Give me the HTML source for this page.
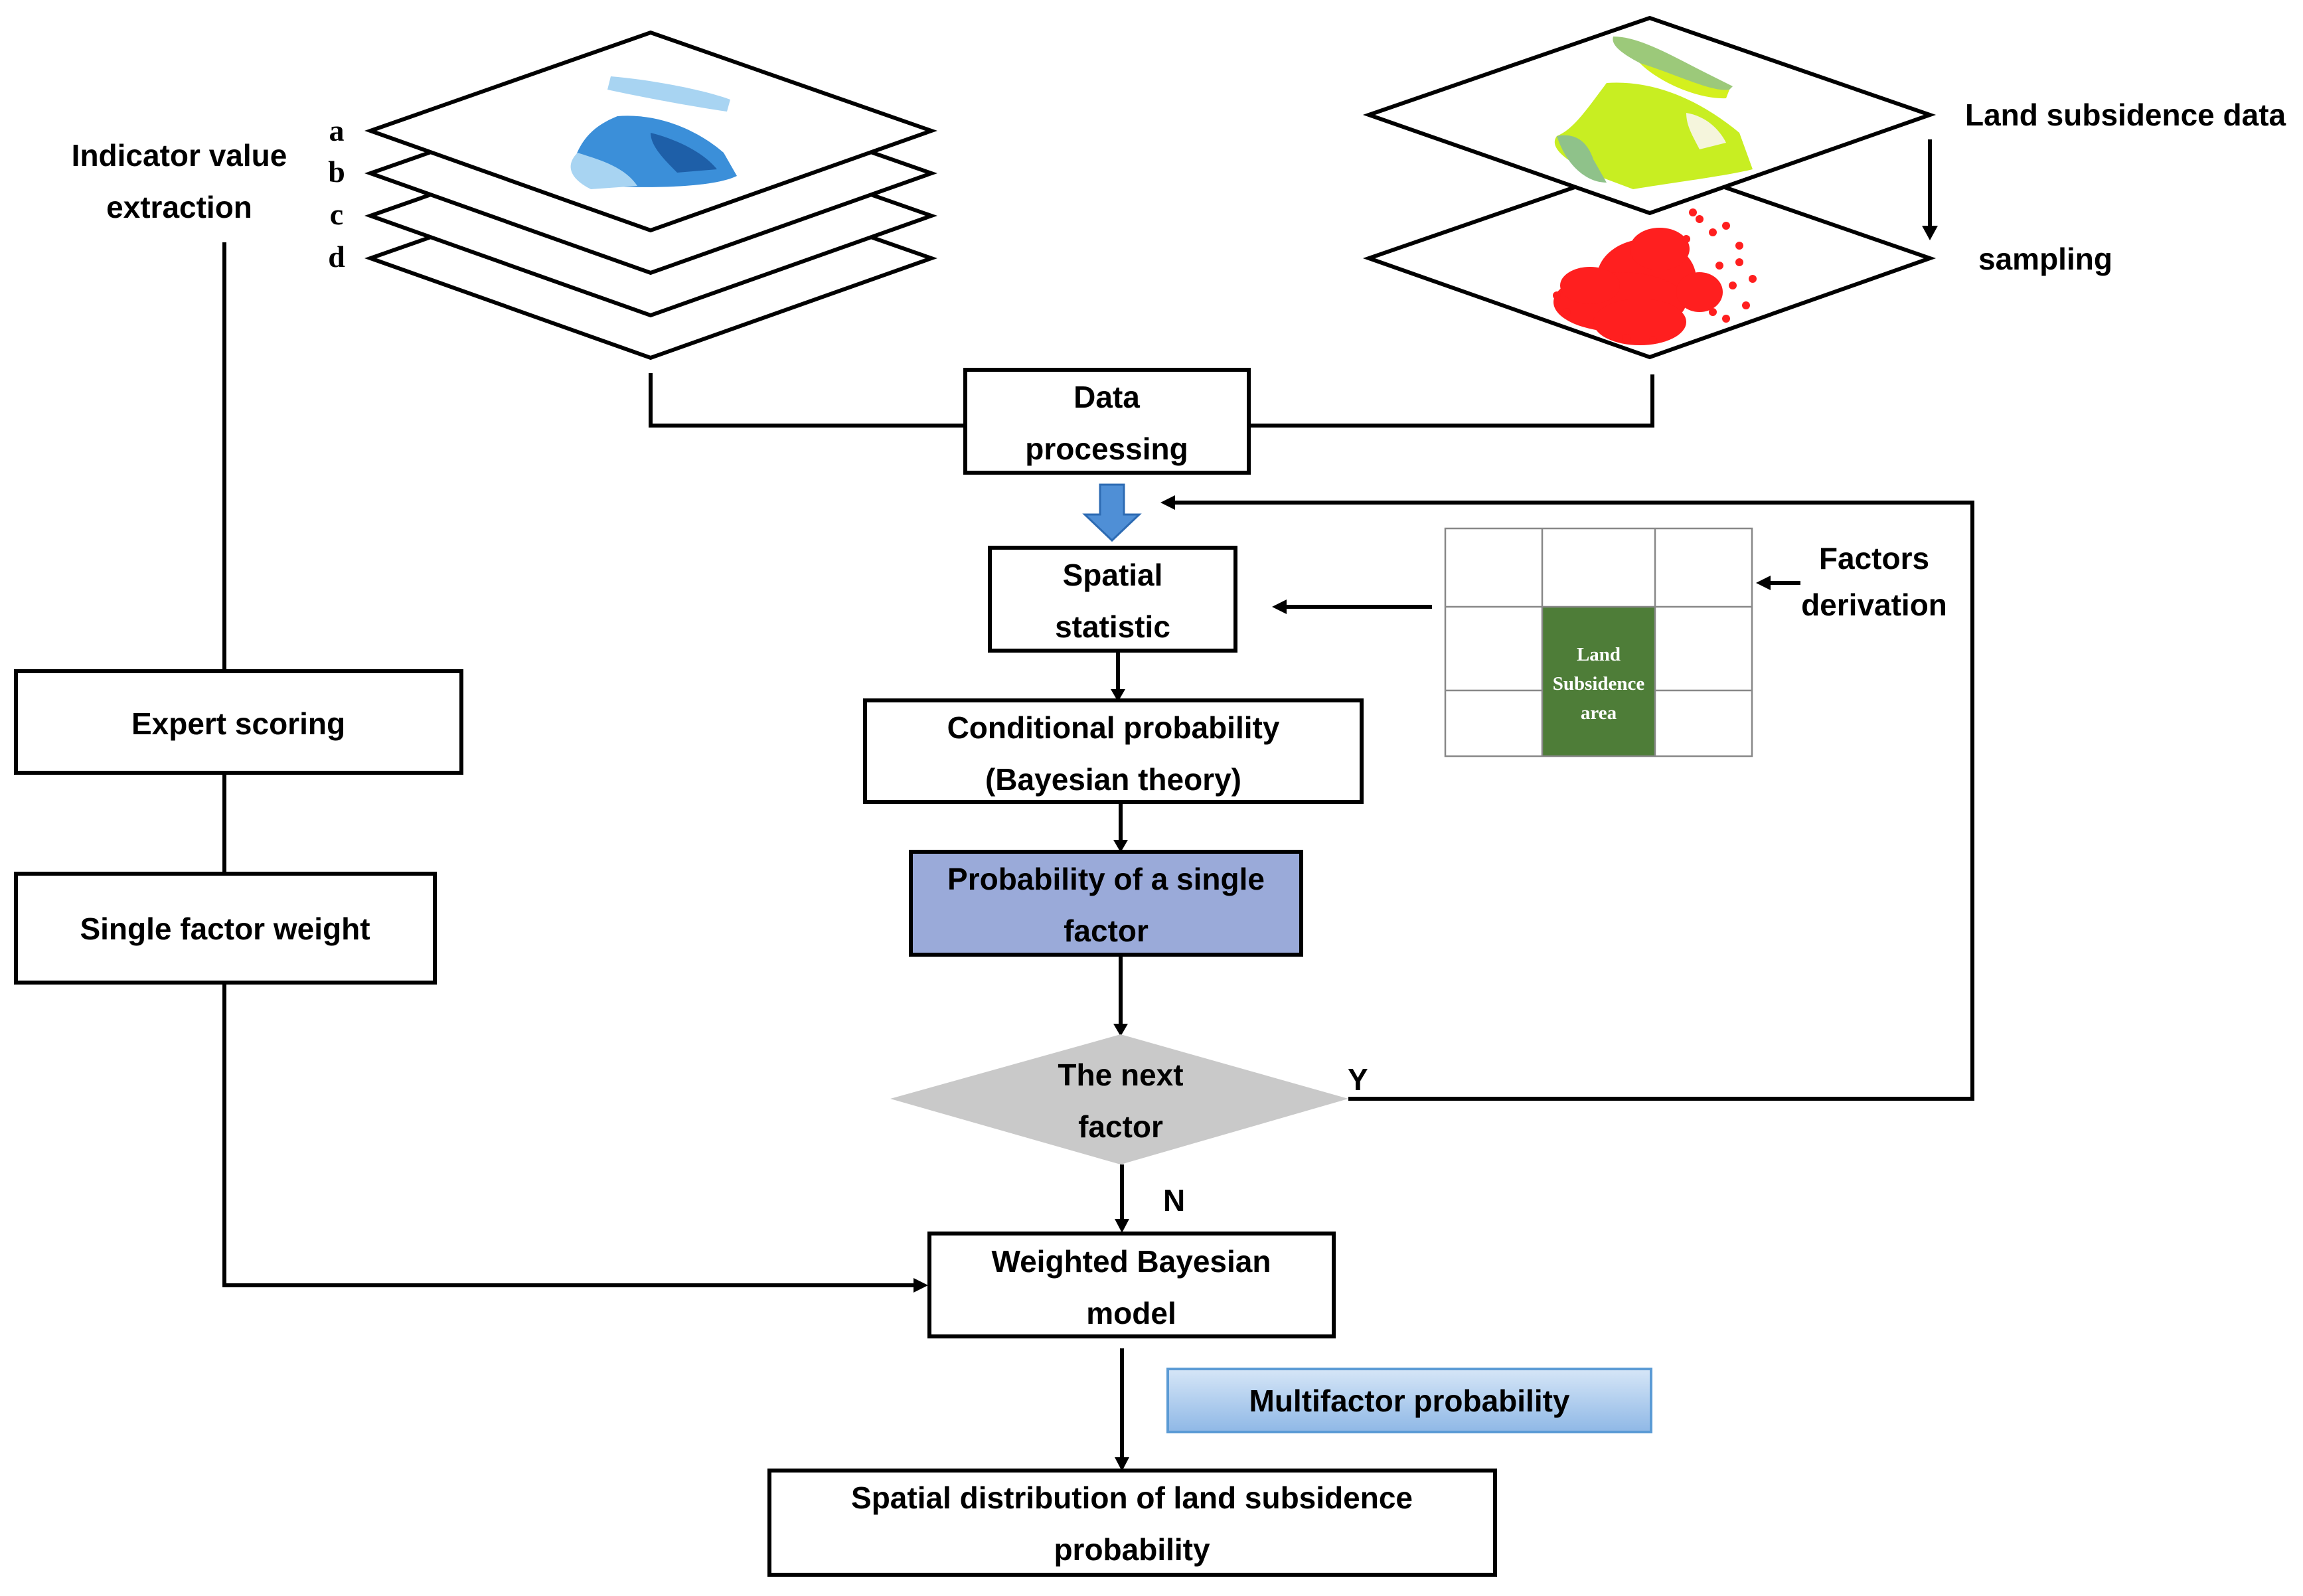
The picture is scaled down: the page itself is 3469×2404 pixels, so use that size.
<!DOCTYPE html>
<html><head><meta charset="utf-8"><style>
html,body{margin:0;padding:0;background:#fff;}
svg{display:block;}
text{font-family:"Liberation Sans",sans-serif;font-weight:bold;font-size:46px;fill:#000;}
.s{font-family:"Liberation Serif",serif;}
</style></head><body>
<svg width="3469" height="2404" viewBox="0 0 3469 2404" xmlns="http://www.w3.org/2000/svg">
<defs>
<linearGradient id="mg" x1="0" y1="0" x2="0" y2="1"><stop offset="0" stop-color="#d6e6f7"/><stop offset="1" stop-color="#8fb8e6"/></linearGradient>
</defs>
<g fill="#fff" stroke="#000" stroke-width="6" stroke-linejoin="miter">
<polygon points="558,389 980,241 1403,389 980,539"/>
<polygon points="558,325 980,177 1403,325 980,475"/>
<polygon points="558,261 980,113 1403,261 980,411"/>
<polygon points="558,197 980,49 1403,197 980,347"/>
<polygon points="2062,389 2485,243 2907,389 2485,538"/>
<polygon points="2062,173 2485,27 2907,173 2485,321"/>
</g>
<g>
<path d="M920,115 C980,120 1060,135 1100,150 L1095,168 C1040,160 960,145 915,135Z" fill="#a8d4f2"/>
<path d="M930,175 C990,170 1050,195 1090,230 L1110,265 C1080,280 1000,285 900,280 L860,255 C870,225 880,195 930,175Z" fill="#3b8fd9"/>
<path d="M870,230 C900,240 940,250 960,280 L890,285 C860,270 850,250 870,230Z" fill="#a8d4f2"/>
<path d="M980,200 C1020,210 1060,230 1080,255 L1020,260 C1000,240 980,220 980,200Z" fill="#1e5fa8"/>
</g>
<g>
<path d="M2430,55 C2470,55 2520,85 2570,110 L2610,130 L2600,140 C2560,135 2520,110 2480,100 C2450,85 2425,70 2430,55Z" fill="#9cc97a"/>
<path d="M2470,95 C2520,110 2580,140 2605,135 L2600,148 C2560,150 2500,125 2470,95Z" fill="#d4f01e"/>
<path d="M2420,125 C2490,120 2560,150 2620,200 L2640,255 C2600,265 2520,275 2460,285 L2420,270 C2370,250 2330,225 2345,205 C2370,195 2390,165 2420,125Z" fill="#c8ee22"/>
<path d="M2345,205 C2370,200 2390,210 2400,240 L2420,275 C2390,275 2360,250 2345,205Z" fill="#8fc28a"/>
<path d="M2540,170 C2570,175 2590,195 2600,215 L2560,225 C2550,205 2540,190 2540,170Z" fill="#f5f5dc"/>
</g>
<g fill="#ff1f1f">
<ellipse cx="2480" cy="420" rx="75" ry="60"/>
<ellipse cx="2440" cy="455" rx="100" ry="45"/>
<ellipse cx="2470" cy="485" rx="70" ry="35"/>
<ellipse cx="2395" cy="430" rx="45" ry="28"/>
<ellipse cx="2500" cy="375" rx="45" ry="32"/>
<ellipse cx="2560" cy="440" rx="35" ry="30"/>
<circle cx="2560" cy="330" r="6"/><circle cx="2580" cy="350" r="6"/><circle cx="2600" cy="340" r="6"/><circle cx="2620" cy="370" r="6"/><circle cx="2590" cy="400" r="6"/><circle cx="2610" cy="430" r="6"/><circle cx="2630" cy="460" r="6"/><circle cx="2580" cy="470" r="6"/><circle cx="2550" cy="320" r="6"/><circle cx="2540" cy="360" r="6"/><circle cx="2640" cy="420" r="6"/><circle cx="2600" cy="480" r="6"/><circle cx="2360" cy="470" r="6"/><circle cx="2345" cy="445" r="6"/><circle cx="2450" cy="510" r="7"/><circle cx="2490" cy="512" r="6"/><circle cx="2620" cy="395" r="6"/>
</g>
<g stroke="#000" stroke-width="6" fill="none">
<polyline points="980,562 980,641 1454,641"/>
<polyline points="2489,564 2489,641 1881,641"/>
<line x1="338" y1="365" x2="338" y2="1011"/>
<line x1="338" y1="1164" x2="338" y2="1316"/>
<polyline points="338,1480 338,1936 1385,1936"/>
<line x1="2907" y1="210" x2="2907" y2="345"/>
<line x1="2157" y1="914" x2="1930" y2="914"/>
<line x1="2712" y1="878" x2="2660" y2="878"/>
<polyline points="2031,1655 2971,1655 2971,757 1762,757"/>
<line x1="1684" y1="980" x2="1684" y2="1040"/>
<line x1="1688" y1="1208" x2="1688" y2="1268"/>
<line x1="1688" y1="1438" x2="1688" y2="1545"/>
<line x1="1690" y1="1754" x2="1690" y2="1840"/>
<line x1="1690" y1="2031" x2="1690" y2="2198"/>
</g>
<g fill="#000">
<polygon points="2895,340 2919,340 2907,362"/>
<polygon points="1916,914 1938,903 1938,925"/>
<polygon points="2645,878 2667,867 2667,889"/>
<polygon points="1748,757 1770,746 1770,768"/>
<polygon points="1398,1936 1376,1925 1376,1947"/>
<polygon points="1673,1038 1695,1038 1684,1057"/>
<polygon points="1677,1265 1699,1265 1688,1284"/>
<polygon points="1677,1542 1699,1542 1688,1561"/>
<polygon points="1679,1836 1701,1836 1690,1857"/>
<polygon points="1679,2195 1701,2195 1690,2216"/>
</g>
<polygon points="1657,730 1693,730 1693,775 1716,775 1675,814 1634,775 1657,775" fill="#4f8fd6" stroke="#2d6bb3" stroke-width="3"/>
<g stroke="#000" stroke-width="6" fill="#fff">
<rect x="1454" y="557" width="427" height="155"/>
<rect x="1491" y="825" width="370" height="155"/>
<rect x="1303" y="1055" width="748" height="153"/>
<rect x="1372" y="1283" width="588" height="155" fill="#9aaad9"/>
<rect x="1400" y="1858" width="609" height="155"/>
<rect x="1159" y="2215" width="1093" height="157"/>
<rect x="24" y="1011" width="671" height="153"/>
<rect x="24" y="1316" width="631" height="164"/>
</g>
<rect x="1759" y="2062" width="728" height="95" fill="url(#mg)" stroke="#5b9bd5" stroke-width="4"/>
<polygon points="1341,1655 1688,1558 2031,1655 1688,1754" fill="#c9c9c9"/>
<rect x="2323" y="914" width="170" height="225" fill="#4e7d38"/>
<g stroke="#888" stroke-width="2.5" fill="none">
<rect x="2177" y="796" width="462" height="343"/>
<line x1="2323" y1="796" x2="2323" y2="1139"/><line x1="2493" y1="796" x2="2493" y2="1139"/>
<line x1="2177" y1="914" x2="2639" y2="914"/>
<line x1="2177" y1="1040" x2="2323" y2="1040"/><line x1="2493" y1="1040" x2="2639" y2="1040"/>
</g>
<g text-anchor="middle">
<text class="s" x="2408" y="995" style="font-size:29px;fill:#fff">Land</text>
<text class="s" x="2408" y="1039" style="font-size:29px;fill:#fff">Subsidence</text>
<text class="s" x="2408" y="1083" style="font-size:29px;fill:#fff">area</text>
</g>
<g text-anchor="middle">
<text x="270" y="250">Indicator value</text>
<text x="270" y="328">extraction</text>
<text x="1667" y="614">Data</text>
<text x="1667" y="692">processing</text>
<text x="1676" y="882">Spatial</text>
<text x="1676" y="960">statistic</text>
<text x="1677" y="1112">Conditional probability</text>
<text x="1677" y="1190">(Bayesian theory)</text>
<text x="1666" y="1340">Probability of a single</text>
<text x="1666" y="1418">factor</text>
<text x="1688" y="1635">The next</text>
<text x="1688" y="1713">factor</text>
<text x="1704" y="1916">Weighted Bayesian</text>
<text x="1704" y="1994">model</text>
<text x="2123" y="2126">Multifactor probability</text>
<text x="1705" y="2272">Spatial distribution of land subsidence</text>
<text x="1705" y="2350">probability</text>
<text x="359" y="1106">Expert scoring</text>
<text x="339" y="1415">Single factor weight</text>
<text x="2823" y="857">Factors</text>
<text x="2823" y="927">derivation</text>
</g>
<text x="2960" y="189">Land subsidence data</text>
<text x="2980" y="406">sampling</text>
<text x="2030" y="1642">Y</text>
<text x="1752" y="1824">N</text>
<g text-anchor="middle">
<text class="s" x="507" y="212">a</text>
<text class="s" x="507" y="274">b</text>
<text class="s" x="507" y="338">c</text>
<text class="s" x="507" y="402">d</text>
</g>
</svg>
</body></html>
